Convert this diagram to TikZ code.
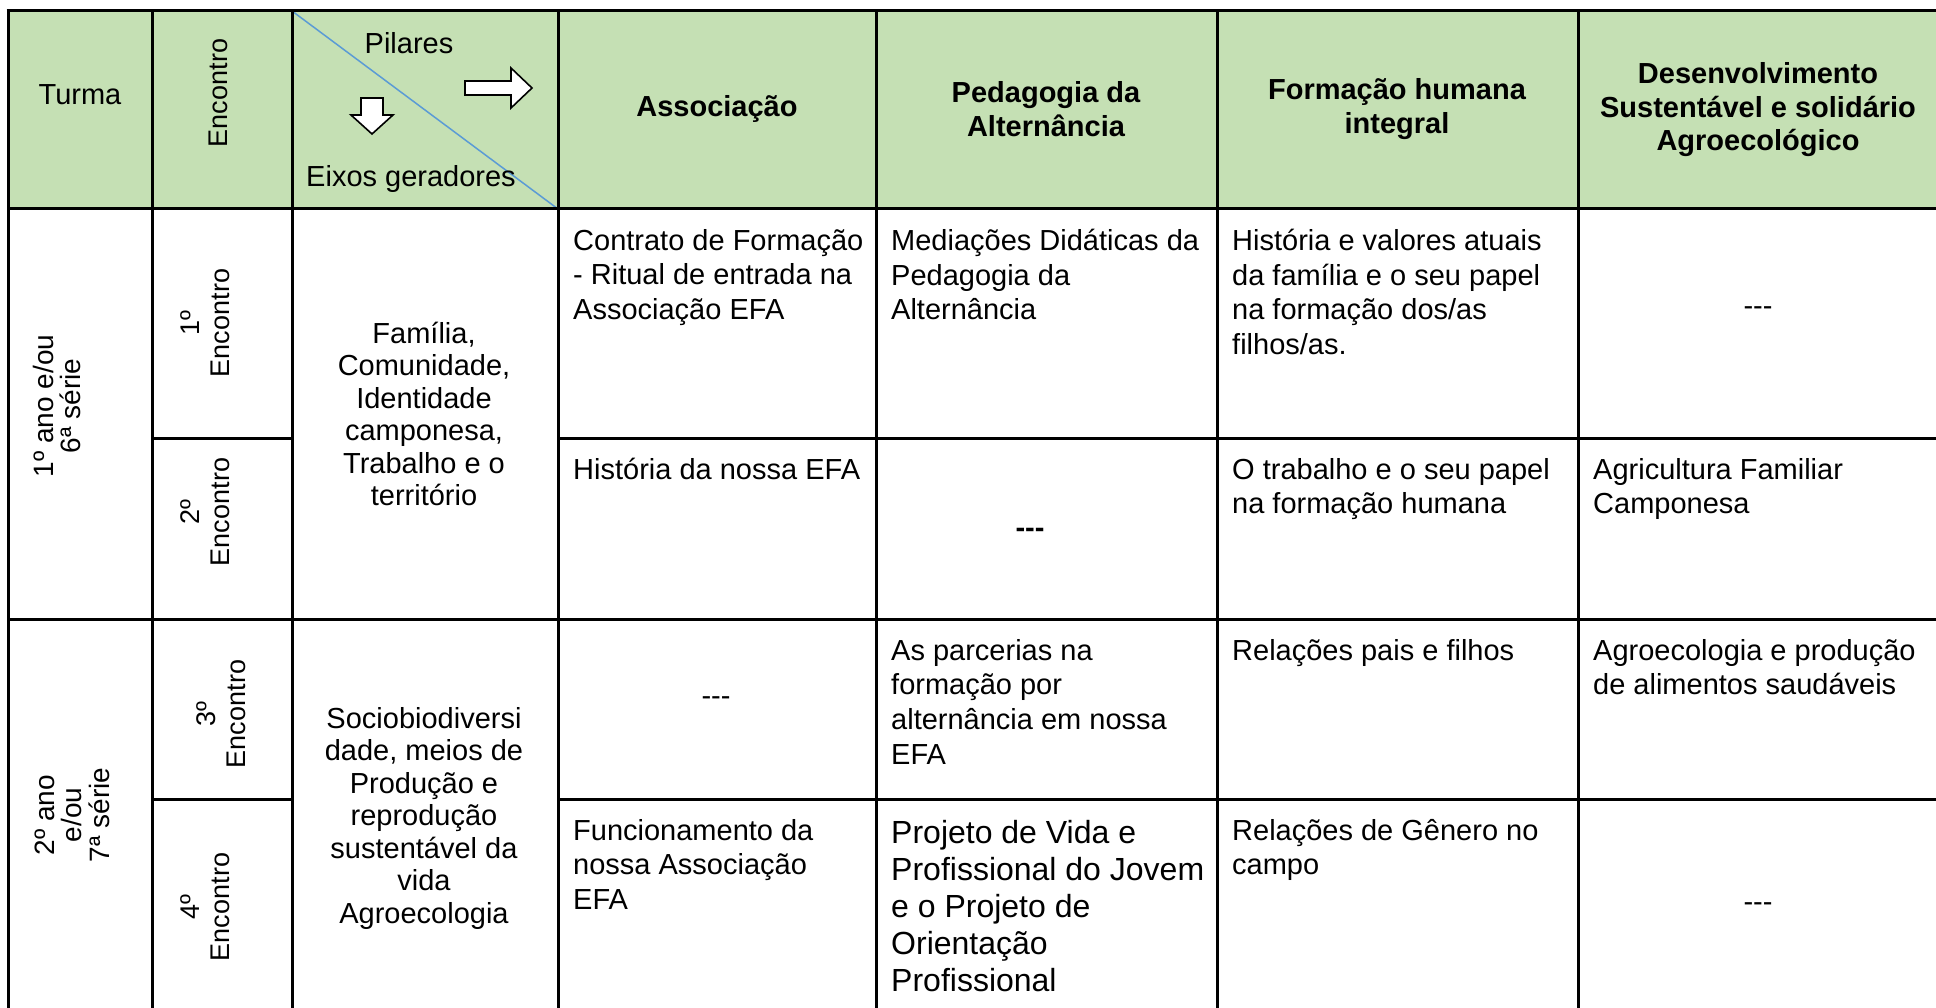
\documentclass[tikz,border=0pt]{standalone}
\usepackage{fontspec}
\setmainfont{Liberation Sans}
\definecolor{hdr}{RGB}{197,224,180}
\definecolor{diag}{RGB}{91,155,213}
\newcommand{\tri}{-\kern0pt-\kern0pt-}
\tikzset{
  body/.style={font=\fontsize{29}{34.6}\selectfont, align=left, anchor=north west, inner sep=0pt},
  bigbody/.style={font=\fontsize{32}{37}\selectfont, align=left, anchor=north west, inner sep=0pt},
  plain/.style={font=\fontsize{29}{33}\selectfont, align=center, inner sep=0pt},
  head/.style={font=\fontsize{29}{33.5}\selectfont\bfseries, align=center, inner sep=0pt},
  rot/.style={font=\fontsize{27}{30}\selectfont, align=center, rotate=90, inner sep=0pt},
  rotturma/.style={font=\fontsize{28}{27.5}\selectfont, align=center, rotate=90, inner sep=0pt},
  eixo/.style={font=\fontsize{29}{32.5}\selectfont, align=center, inner sep=0pt},
  gridline/.style={line width=3pt, black},
  blockarrow/.style={draw=black, fill=white, line width=1.6pt, line join=miter},
}
\begin{document}
\begin{tikzpicture}[x=1pt, y=-1pt]
\useasboundingbox (0,0) rectangle (1936,1008);
\begin{scope}
\clip (0,0) rectangle (1936,1008);
% header background
\fill[hdr] (8,11) rectangle (1940,209);
% diagonal
\draw[diag, line width=1.5pt] (292,11) -- (558,209);
% grid
\draw[gridline] (6.5,11) -- (1940,11);
\draw[gridline] (8,209) -- (1940,209);
\draw[gridline] (152,438) -- (292,438) (558,438) -- (1940,438);
\draw[gridline] (8,619) -- (1940,619);
\draw[gridline] (152,799) -- (292,799) (558,799) -- (1940,799);
\foreach \xx in {8,152,292,558,876,1217,1578}
  \draw[gridline] (\xx,11) -- (\xx,1012);
\end{scope}

% block arrows
\draw[blockarrow] (465,81) -- (511,81) -- (511,68) -- (532,88) -- (511,108) -- (511,95) -- (465,95) -- cycle;
\draw[blockarrow] (361,98) -- (383,98) -- (383,115) -- (393,115) -- (372,134) -- (351,115) -- (361,115) -- cycle;

% header texts
\node[plain] (hturma) at (80,95) {Turma};
\node[rot] (henc) at (218,93) {Encontro};
\node[plain] (hpil) at (409,43) {Pilares};
\node[plain] (heix) at (411,179) {Eixos geradores};
\node[head] (h1) at (717,109) {Associação};
\node[head] (h2) at (1046,109) {Pedagogia da\\Alternância};
\node[head] (h3) at (1397,109) {Formação humana\\integral};
\node[head] (h4) at (1758,110) {Desenvolvimento\\Sustentável e solidário\\Agroecológico};

% turma
\node[rotturma] (t1) at (57,406) {1º ano e/ou\\6ª série};
\node[rotturma] (t2) at (72,815) {2º ano\\e/ou\\7ª série};

% encontros
\node[rot] (e1) at (205,323) {1º\\Encontro};
\node[rot] (e2) at (205,512) {2º\\Encontro};
\node[rot] (e3) at (221,714) {3º\\Encontro};
\node[rot] (e4) at (205,907) {4º\\Encontro};

% eixos geradores
\node[eixo] (x1) at (424,414) {Família,\\Comunidade,\\Identidade\\camponesa,\\Trabalho e o\\território};
\node[eixo] (x2) at (424,818) {Sociobiodiversi\\dade, meios de\\Produção e\\reprodução\\sustentável da\\vida\\Agroecologia};

% row 1
\node[body] (a1) at (573,229) {Contrato de Formação\\- Ritual de entrada na\\Associação EFA};
\node[body] (p1) at (891,229) {Mediações Didáticas da\\Pedagogia da\\Alternância};
\node[body] (f1) at (1232,229) {História e valores atuais\\da família e o seu papel\\na formação dos/as\\filhos/as.};
\node[plain] (d1) at (1758,311) {\tri};
% row 2
\node[body] (a2) at (573,458) {História da nossa EFA};
\node[plain, font=\fontsize{29}{33}\selectfont\bfseries] (p2) at (1030,533) {\tri};
\node[body] (f2) at (1232,458) {O trabalho e o seu papel\\na formação humana};
\node[body] (d2) at (1593,458) {Agricultura Familiar\\Camponesa};
% row 3
\node[plain] (a3) at (716,701) {\tri};
\node[body] (p3) at (891,639) {As parcerias na\\formação por\\alternância em nossa\\EFA};
\node[body] (f3) at (1232,639) {Relações pais e filhos};
\node[body] (d3) at (1593,639) {Agroecologia e produção\\de alimentos saudáveis};
% row 4
\node[body] (a4) at (573,819) {Funcionamento da\\nossa Associação\\EFA};
\node[bigbody] (p4) at (891,820) {Projeto de Vida e\\Profissional do Jovem\\e o Projeto de\\Orientação\\Profissional};
\node[body] (f4) at (1232,819) {Relações de Gênero no\\campo};
\node[plain] (d4) at (1758,907) {\tri};
\end{tikzpicture}
\end{document}
